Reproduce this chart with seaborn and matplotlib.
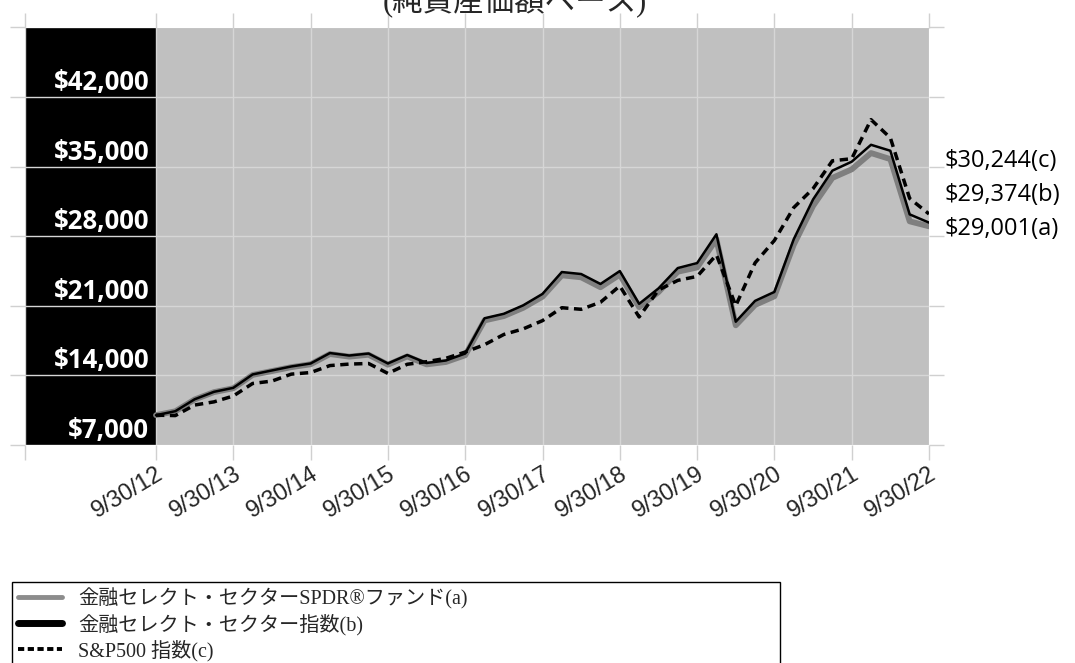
import numpy as np
import pandas as pd
import matplotlib
matplotlib.use("Agg")
import matplotlib.pyplot as plt
from matplotlib.lines import Line2D
from matplotlib.font_manager import FontProperties
import seaborn as sns

# ---------------- data ----------------
year_labels = ["9/30/12", "9/30/13", "9/30/14", "9/30/15", "9/30/16", "9/30/17",
               "9/30/18", "9/30/19", "9/30/20", "9/30/21", "9/30/22"]

fund_a = [10000, 10390, 11580, 12320, 12710, 14050, 14440, 14830, 15120, 16150,
          15890, 16080, 15080, 15910, 15110, 15350, 16030, 19530, 19970, 20800,
          21920, 24070, 23870, 22870, 24140, 20870, 22380, 24430, 24860, 27690,
          19040, 21090, 21960, 27140, 31050, 33870, 34730, 36370, 35760, 29500,
          29001]
index_b = [10000, 10400, 11600, 12350, 12750, 14100, 14500, 14900, 15200, 16250,
           16000, 16200, 15200, 16050, 15250, 15500, 16200, 19750, 20200, 21050,
           22200, 24400, 24200, 23200, 24500, 21200, 22750, 24800, 25300, 28200,
           19400, 21500, 22400, 27700, 31700, 34600, 35500, 37200, 36600, 30200,
           29374]
sp500_c = [10000, 9960, 11020, 11340, 11930, 13190, 13430, 14130, 14290, 14990,
           15140, 15200, 14200, 15120, 15380, 15720, 16350, 17090, 18120, 18680,
           19510, 20810, 20650, 21360, 23000, 19880, 22590, 23560, 23960, 26130,
           21010, 25320, 27580, 30880, 32790, 35590, 35800, 39730, 37900, 31800,
           30244]

y_ticks = [7000, 14000, 21000, 28000, 35000, 42000, 49000]
y_labels = ["$7,000", "$14,000", "$21,000", "$28,000", "$35,000", "$42,000"]
end_labels = ["$30,244(c)", "$29,374(b)", "$29,001(a)"]
legend_labels = ["金融セレクト・セクターSPDR®ファンド(a)",
                 "金融セレクト・セクター指数(b)",
                 "S&P500 指数(c)"]
title_text = "(純資産価額ベース)"

# ---------------- frame ----------------
sns.set_style("white")
plt.rcParams["font.family"] = ["Liberation Sans", "Noto Sans CJK JP", "DejaVu Sans"]
serif_cjk = ["Liberation Serif", "Noto Sans CJK JP", "DejaVu Sans"]

W, H = 1075, 663
fig = plt.figure(figsize=(W / 100, H / 100), dpi=100)
ax_l, ax_r, ax_t, ax_b = 25, 929, 27.5, 445
ax = fig.add_axes([ax_l / W, 1 - ax_b / H, (ax_r - ax_l) / W, (ax_b - ax_t) / H])

df = pd.DataFrame({"t": np.arange(len(fund_a)) / 4.0,
                   "a": fund_a, "b": index_b, "c": sp500_c})

XMIN = -(156 - 25) / 77.3
ax.set_xlim(XMIN, 10)
ax.set_ylim(y_ticks[0], y_ticks[-1])
ax.set_facecolor("#c0c0c0")
ax.axvspan(XMIN, 0, color="black", zorder=0.1, lw=0)

ax.set_axisbelow(True)
ax.grid(True, color="#d6d6d6", lw=1.0)
for s in ax.spines.values():
    s.set_visible(False)

ax.set_yticks(y_ticks)
ax.set_xticks([XMIN] + list(range(11)))
ax.set_xticklabels([""] + year_labels, rotation=31, ha="right", va="top",
                   rotation_mode="anchor", fontsize=17, family="Liberation Sans")
ax.tick_params(axis="both", which="both", direction="out", length=11,
               width=1, color="#d0d0d0", top=True, right=True, left=True,
               bottom=True, labelleft=False, labelright=False, labeltop=False,
               pad=2)

# ---------------- lines ----------------
sns.lineplot(data=df, x="t", y="a", ax=ax, color="#7f7f7f", lw=4.2, zorder=3)
sns.lineplot(data=df, x="t", y="b", ax=ax, color="black", lw=1.8, zorder=4)
sns.lineplot(data=df, x="t", y="c", ax=ax, color="black", lw=2.5, zorder=5,
             linestyle=(0, (2.4, 1.6)))
ax.set_xlabel("")
ax.set_ylabel("")

# ---------------- y labels inside black band ----------------
for v, lab in zip(y_ticks[:-1], y_labels):
    ax.annotate(lab, xy=(-0.09, v), xytext=(0, 5), textcoords="offset points",
                ha="right", va="baseline", color="white", fontsize=18.5,
                fontweight="bold", family="Open Sans", zorder=6)

# ---------------- end labels ----------------
for yp, lab in zip([161, 195, 229], end_labels):
    fig.text(945 / W, 1 - yp / H, lab, ha="left", va="center", fontsize=17,
             family="Open Sans", color="black")

# ---------------- title (cut off at the top) ----------------
fig.text(515 / W, 1 - 10 / H, title_text, ha="center", va="baseline",
         fontsize=22, family=serif_cjk)

# ---------------- legend ----------------
handles = [Line2D([], [], color="#8c8c8c", lw=3.5),
           Line2D([], [], color="black", lw=5),
           Line2D([], [], color="black", lw=2.8, linestyle=(0, (1.6, 0.9)))]
leg = fig.legend(handles, legend_labels, loc="upper left",
                 bbox_to_anchor=(12 / W, 1 - 582 / H, (780 - 12) / W, 0),
                 mode="expand", frameon=True, fancybox=False,
                 edgecolor="black", framealpha=1, borderaxespad=0,
                 prop=FontProperties(family=serif_cjk, size=14.5),
                 handlelength=2.2, handletextpad=0.8, labelspacing=0.22,
                 borderpad=0.3)
leg.get_frame().set_linewidth(1.0)

fig.savefig("out.png", dpi=100)
